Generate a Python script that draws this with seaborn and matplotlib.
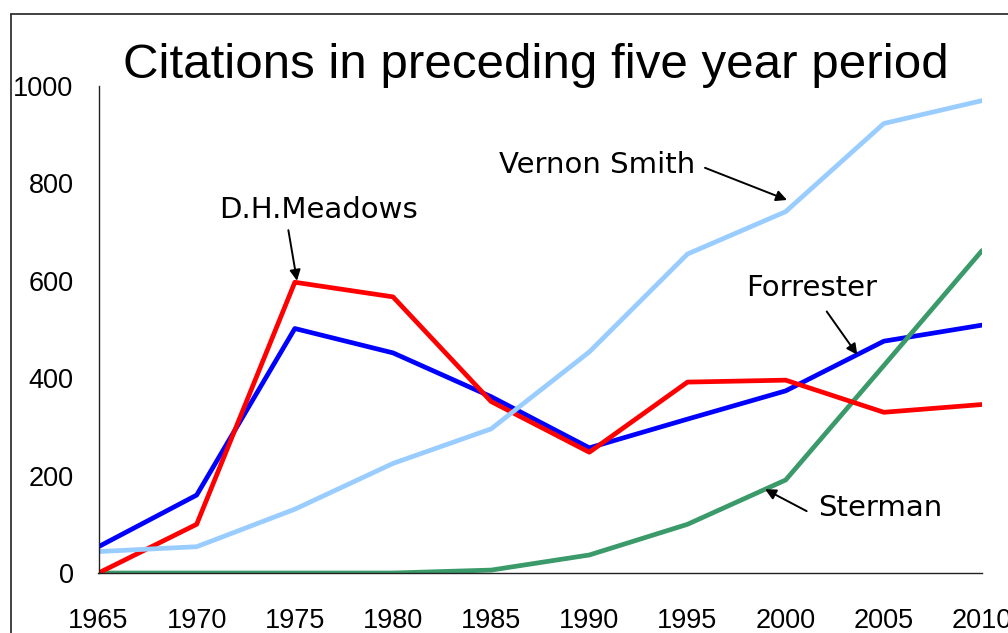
import matplotlib
matplotlib.use("Agg")
import matplotlib.pyplot as plt
from matplotlib.lines import Line2D
import seaborn as sns
import pandas as pd

years = [1965, 1970, 1975, 1980, 1985, 1990, 1995, 2000, 2005, 2010]
forrester = [54, 160, 502, 452, 362, 257, 316, 374, 476, 509]
meadows = [0, 100, 597, 567, 352, 248, 392, 396, 330, 346]
smith = [44, 54, 131, 225, 296, 454, 655, 742, 923, 970]
sterman = [0, 0, 0, 0, 6, 37, 100, 191, 426, 662]

series_names = ["Forrester", "Sterman", "D.H.Meadows", "Vernon Smith"]
series_values = [forrester, sterman, meadows, smith]
colors = {"Forrester": "#0000FF", "D.H.Meadows": "#FF0000",
          "Vernon Smith": "#99CCFF", "Sterman": "#3A9A6A"}

rows = []
for name, vals in zip(series_names, series_values):
    for y, v in zip(years, vals):
        rows.append({"year": y, "citations": v, "author": name})
df = pd.DataFrame(rows)

sns.set_theme(style="white")
plt.rcParams["font.family"] = ["Liberation Sans", "DejaVu Sans"]

W, H = 1008, 633
fig = plt.figure(figsize=(W / 100, H / 100), dpi=100)
ax = fig.add_axes([98.5 / W, 1 - 573 / H, (982 - 98.5) / W, (573 - 86) / H])

sns.lineplot(data=df, x="year", y="citations", hue="author",
             hue_order=series_names, palette=colors, linewidth=3.4,
             legend=False, ax=ax, sort=False)

ax.set_xlim(1965, 2010)
ax.set_ylim(0, 1000)
ax.set_xticks(years)
ax.set_yticks([0, 200, 400, 600, 800, 1000])
ax.set_xlabel("")
ax.set_ylabel("")
for s in ["top", "right"]:
    ax.spines[s].set_visible(False)
for s in ["left", "bottom"]:
    ax.spines[s].set_color("#222222")
    ax.spines[s].set_linewidth(1.0)
ax.tick_params(axis="both", which="major", direction="out", color="#222222",
               width=1.0, labelsize=19.5, labelcolor="black")
ax.tick_params(axis="x", length=9, pad=16)
ax.tick_params(axis="y", length=8, pad=10)
for lbl in ax.get_xticklabels() + ax.get_yticklabels():
    lbl.set_clip_on(False)

fig.text(535.5 / W, 1 - 78 / H, "Citations in preceding five year period",
         ha="center", va="baseline", fontsize=35.5, color="black")

ann_font = dict(fontsize=21, color="black", family=["DejaVu Sans"])
arrow = dict(arrowstyle="-|>", color="black", lw=1.4, mutation_scale=16,
             shrinkA=0, shrinkB=0)

ax.text(1976.19, 745, "D.H.Meadows", ha="center", va="center", **ann_font)
ax.annotate("", xy=(1975.11, 600), xytext=(1974.67, 704), arrowprops=arrow)

ax.text(1990.39, 838, "Vernon Smith", ha="center", va="center", **ann_font)
ax.annotate("", xy=(2000.07, 766), xytext=(1995.89, 832), arrowprops=arrow)

ax.text(2001.34, 585, "Forrester", ha="center", va="center", **ann_font)
ax.annotate("", xy=(2003.65, 448), xytext=(2002.09, 537), arrowprops=arrow)

ax.text(2004.8, 133, "Sterman", ha="center", va="center", **ann_font)
ax.annotate("", xy=(1998.95, 172), xytext=(2001.07, 127), arrowprops=arrow)

# frame around figure (left and top edges visible)
fig.add_artist(Line2D([11 / W, 11 / W], [1 - 14 / H, -0.1], color="#333333", lw=1.3))
fig.add_artist(Line2D([11 / W, 1.1], [1 - 14 / H, 1 - 14 / H], color="#333333", lw=1.3))

fig.savefig("out.png", dpi=100)
